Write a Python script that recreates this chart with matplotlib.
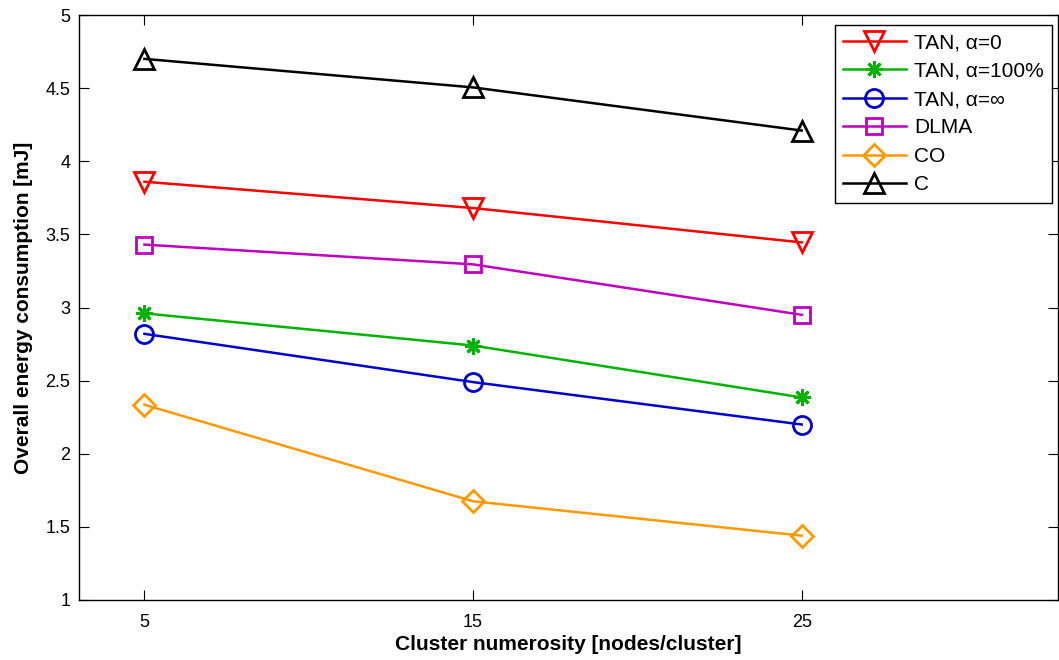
import matplotlib
matplotlib.use("Agg")
from matplotlib import pyplot as plt

plt.rcParams['font.family'] = ['Liberation Sans', 'DejaVu Sans']

# data
cluster_sizes = [5, 15, 25]
tan_alpha0 = [3.86, 3.68, 3.445]
tan_alpha100 = [2.96, 2.74, 2.385]
tan_alpha_inf = [2.82, 2.49, 2.20]
dlma = [3.43, 3.295, 2.95]
co = [2.335, 1.675, 1.44]
c_only = [4.70, 4.505, 4.21]

series = [
  ("TAN, \u03b1=0", tan_alpha0, (1, 0, 0), 'v', 15),
  ("TAN, \u03b1=100%", tan_alpha100, (0, 0.7, 0), (8, 2, 0), 12),
  ("TAN, \u03b1=\u221e", tan_alpha_inf, (0, 0, 0.8), 'o', 13),
  ("DLMA", dlma, (0.75, 0, 0.75), 's', 11.5),
  ("CO", co, (1, 0.6, 0), 'D', 11),
  ("C", c_only, (0, 0, 0), '^', 15),
]

fig = plt.figure(figsize=[10.59, 6.6], dpi=100)
ax = fig.add_axes([78.7/1059, 60/660, (1058-78.7)/1059, (600-15)/660])

for label, vals, col, mk, ms in series:
  ax.plot(cluster_sizes, vals, color=col, linewidth=1.8, marker=mk, markersize=ms,
          markerfacecolor='none', markeredgecolor=col, markeredgewidth=2.0, label=label)

ax.set_xlim(3, 32.8)
ax.set_ylim(1, 5)
ax.set_xticks(cluster_sizes)
ax.set_yticks([1, 1.5, 2, 2.5, 3, 3.5, 4, 4.5, 5])
ax.set_yticklabels(['1', '1.5', '2', '2.5', '3', '3.5', '4', '4.5', '5'])
ax.tick_params(direction='in', length=7, width=0.8, labelsize=13, top=True, right=True)
ax.tick_params(axis='x', pad=10)
ax.tick_params(axis='y', pad=6)
for s in ax.spines.values():
  s.set_linewidth(1.0)

ax.set_xlabel("Cluster numerosity [nodes/cluster]", fontsize=15, fontweight='bold', labelpad=3)
ax.set_ylabel("Overall energy consumption [mJ]", fontsize=15, fontweight='bold', labelpad=9)

leg = ax.legend(loc='upper right', bbox_to_anchor=(1052/1059, 1 - 25/660), bbox_transform=fig.transFigure,
                fontsize=15, frameon=True, fancybox=False, edgecolor='black', framealpha=1,
                handlelength=3.0, labelspacing=0.45, borderpad=0.4, handletextpad=0.4, borderaxespad=0)
leg.get_frame().set_linewidth(1.0)

fig.savefig("out.png", dpi=100)
